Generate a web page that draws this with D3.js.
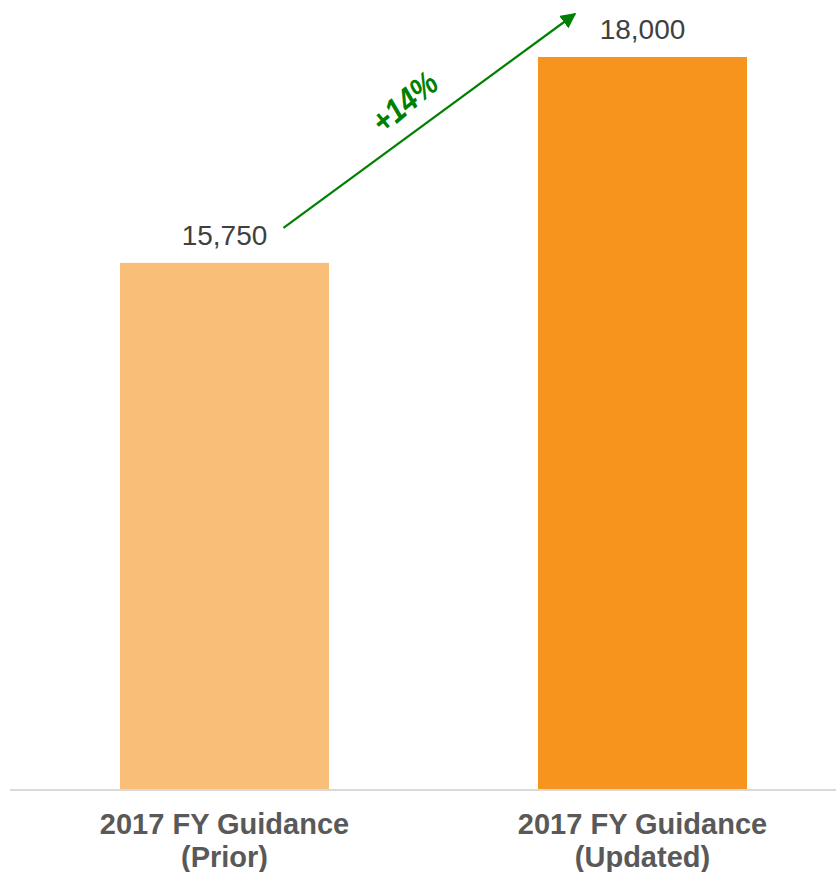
<!DOCTYPE html>
<html>
<head>
<meta charset="utf-8">
<script src="https://cdn.jsdelivr.net/npm/d3@7"></script>
<style>
  body { margin: 0; background: #fff; }
  svg { display: block; font-family: "Liberation Sans", Arial, sans-serif; }
</style>
</head>
<body>
<div class="chart"></div>
<script>
// chart data
var categories = ["2017 FY Guidance (Prior)", "2017 FY Guidance (Updated)"];
var labelLines = [["2017 FY Guidance", "(Prior)"], ["2017 FY Guidance", "(Updated)"]];
var values = [15750, 18000];
var barColors = ["#F9BF78", "#F7941E"];
var changeLabel = "+14%";

var width = 836, height = 872;
var baseY = 789;

var svg = d3.select(".chart")
  .append("svg")
  .attr("width", width)
  .attr("height", height);

var xScale = d3.scaleBand()
  .domain(categories)
  .range([15.5, 851.5])
  .paddingInner(0.5)
  .paddingOuter(0.25);

// value axis does not start at zero in the original
var yScale = d3.scaleLinear()
  .domain([10000, 18000])
  .range([baseY, 57]);

// bars
svg.append("g")
  .selectAll("rect")
  .data(values)
  .enter()
  .append("rect")
  .attr("x", function(d, i) { return xScale(categories[i]); })
  .attr("y", function(d) { return yScale(d); })
  .attr("width", xScale.bandwidth())
  .attr("height", function(d) { return baseY - yScale(d); })
  .attr("fill", function(d, i) { return barColors[i]; });

// baseline
svg.append("line")
  .attr("x1", 10)
  .attr("x2", width)
  .attr("y1", baseY + 1)
  .attr("y2", baseY + 1)
  .attr("stroke", "#d9d9d9")
  .attr("stroke-width", 2);

// value labels
svg.append("g")
  .selectAll("text")
  .data(values)
  .enter()
  .append("text")
  .attr("x", function(d, i) { return xScale(categories[i]) + xScale.bandwidth() / 2; })
  .attr("y", function(d) { return yScale(d) - 18; })
  .attr("text-anchor", "middle")
  .style("font-size", "28px")
  .attr("fill", "#404040")
  .text(function(d) { return d3.format(",")(d); });

// category labels, two lines each
var cat = svg.append("g")
  .selectAll("text")
  .data(categories)
  .enter()
  .append("text")
  .attr("y", 834)
  .attr("text-anchor", "middle")
  .style("font-size", "29px")
  .style("font-weight", "bold")
  .attr("fill", "#595959");

cat.each(function(d, i) {
  d3.select(this).selectAll("tspan")
    .data(labelLines[i])
    .enter()
    .append("tspan")
    .attr("x", xScale(d) + xScale.bandwidth() / 2)
    .attr("dy", function(t, j) { return j === 0 ? 0 : 33; })
    .text(function(t) { return t; });
});

// growth arrow
svg.append("defs")
  .append("marker")
  .attr("id", "head")
  .attr("viewBox", "0 0 10 10")
  .attr("refX", 9)
  .attr("refY", 5)
  .attr("markerWidth", 7)
  .attr("markerHeight", 7)
  .attr("markerUnits", "strokeWidth")
  .attr("orient", "auto")
  .append("path")
  .attr("d", "M0,0 L10,5 L0,10 Z")
  .attr("fill", "#008000");

var x0 = xScale(categories[0]) + xScale.bandwidth() / 2 + 59;
var y0 = yScale(values[0]) - 35;
var x1 = xScale(categories[1]) + 37;
var y1 = yScale(values[1]) - 43;

svg.append("line")
  .attr("x1", x0)
  .attr("y1", y0)
  .attr("x2", x1)
  .attr("y2", y1)
  .attr("stroke", "#008000")
  .attr("stroke-width", 2.2)
  .attr("marker-end", "url(#head)");

svg.append("text")
  .attr("transform", "translate(412,111) rotate(-40) scale(1,1.15)")
  .attr("text-anchor", "middle")
  .style("font-size", "29px")
  .style("font-weight", "bold")
  .style("font-style", "italic")
  .attr("fill", "#008000")
  .text(changeLabel);
</script>
</body>
</html>
